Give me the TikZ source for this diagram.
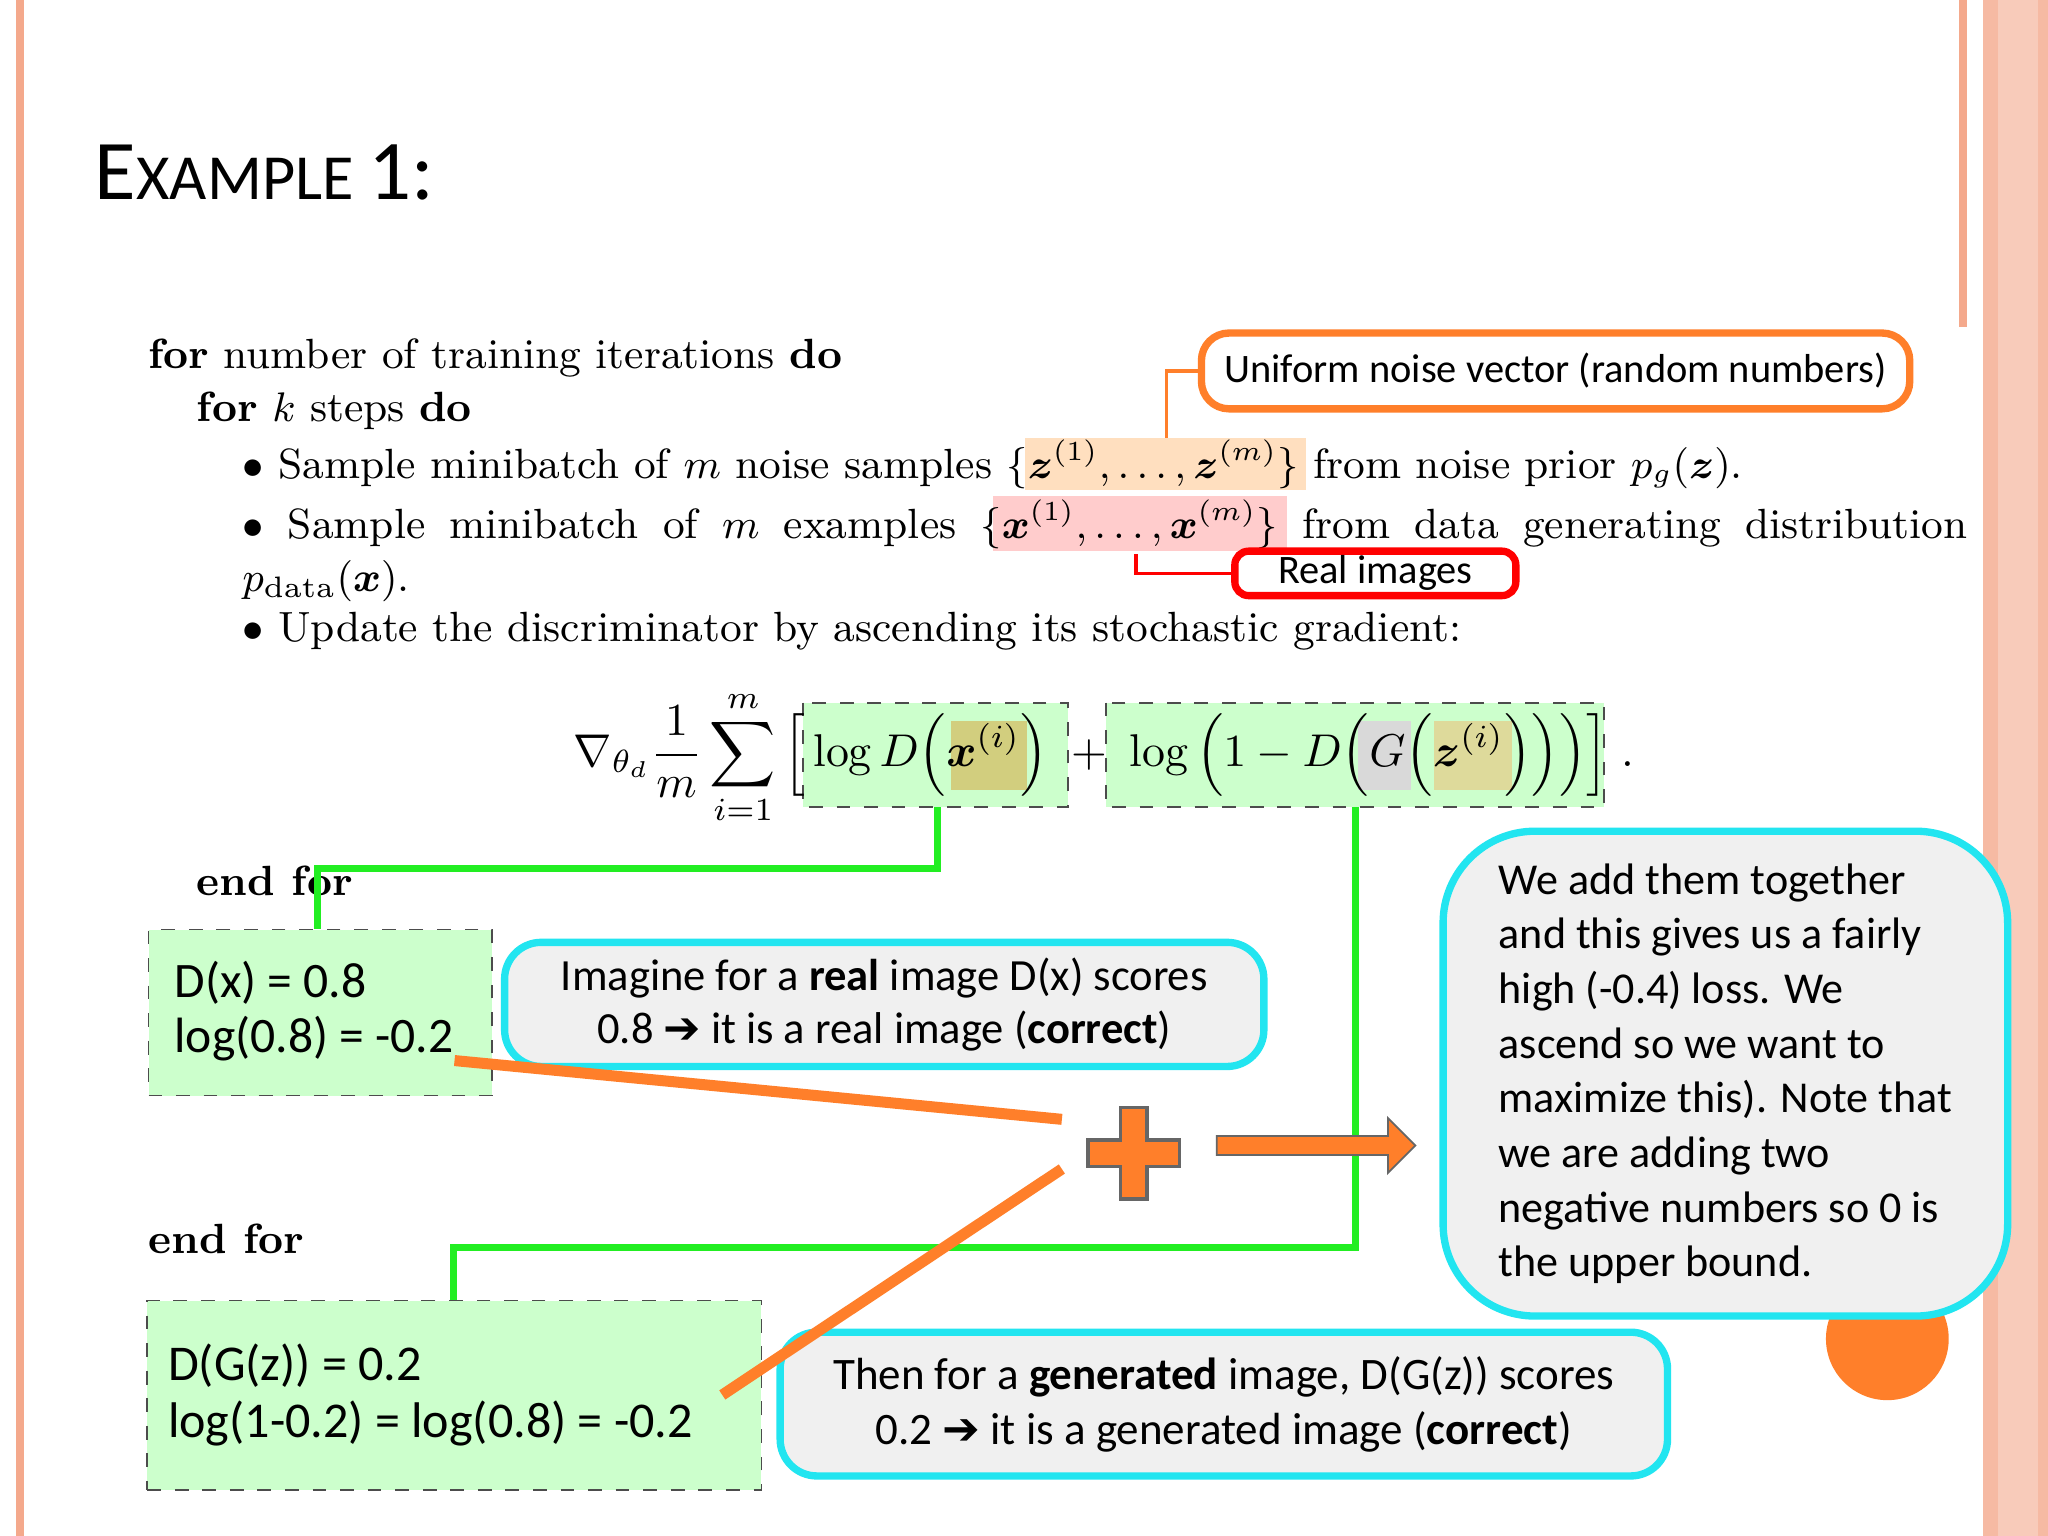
\documentclass[tikz,border=0pt]{standalone}
\usepackage{amsmath,bm}
\usepackage{fontspec}
\newfontfamily\carl{Carlito}
\newfontfamily\dejavu{DejaVu Sans}
\usetikzlibrary{shapes.arrows}
\definecolor{sal}{HTML}{F4A98C}
\definecolor{org}{HTML}{FF7F2A}
\definecolor{lg}{HTML}{CCFFCC}
\definecolor{gr}{HTML}{22EE22}
\definecolor{cy}{HTML}{22E5F0}
\definecolor{bx}{HTML}{F0F0F0}
\newcommand{\barr}{{\dejavu\bfseries ➔}}
\tikzset{
 cbox/.style={draw=cy,line width=1.6pt,fill=bx,rounded corners=8pt,align=center,font=\carl\fontsize{9}{12}\selectfont},
 gbox/.style={draw=black!70,dashed,fill=lg,anchor=north west,align=left,inner sep=0pt},
 alg/.style={anchor=base west,font=\fontsize{9.2}{11}\selectfont,inner sep=0pt},
 gl/.style={draw=gr,line width=1.6pt},
 ol/.style={draw=org,line width=2.4pt}
}
\begin{document}
\begin{tikzpicture}[x=0.01cm,y=-0.01cm]
\useasboundingbox (0,0) rectangle (1568,1176);
\fill[white] (0,0) rectangle (1568,1176);
\fill[sal] (12,0) rectangle (18,1176);
\fill[sal] (1500,0) rectangle (1506,250);
\fill[sal!80] (1518,0) rectangle (1568,1176);
\fill[sal!60] (1530,0) rectangle (1560,1176);
\fill[org] (1445,1025) circle (47);
\node[anchor=base west,inner sep=0pt,font=\carl\fontsize{18.5}{20}\selectfont] (title) at (72,153) {E\fontsize{14}{16}\selectfont XAMPLE \fontsize{18.5}{20}\selectfont 1:};
% highlights
\fill[orange!25] (785,335) rectangle (1000,375);
\fill[red!20] (760,380) rectangle (985,422);
% algorithm
\node[alg] (l1) at (113,282) {\textbf{for} number of training iterations \textbf{do}};
\node[alg] (l2) at (150,323) {\textbf{for} $k$ steps \textbf{do}};
\node[alg] (l3) at (185,366) {$\bullet$ Sample minibatch of $m$ noise samples $\{\bm z^{(1)},\dots,\bm z^{(m)}\}$ from noise prior $p_g(\bm z)$.};
\node[alg] (l4) at (185,412) {\hbox to 13.2cm{$\bullet$\hfil Sample\hfil minibatch\hfil of\hfil $m$\hfil examples\hfil $\{\bm x^{(1)},\dots,\bm x^{(m)}\}$\hfil from\hfil data\hfil generating\hfil distribution}};
\node[alg] (l5) at (185,453) {$p_{\text{data}}(\bm x)$.};
\node[alg] (l6) at (185,491) {$\bullet$ Update the discriminator by ascending its stochastic gradient:};
% formula boxes
\fill[lg] (615,538) rectangle (818,618);
\fill[lg] (847,538) rectangle (1228,618);
\fill[olive!40] (728,552) rectangle (786,605);
\fill[olive!30] (1098,552) rectangle (1158,605);
\fill[gray!30] (1040,552) rectangle (1080,605);
\draw[dashed,black!70] (615,538) rectangle (818,618);
\draw[dashed,black!70] (847,538) rectangle (1228,618);
\node[anchor=center,inner sep=0pt,font=\fontsize{10}{12}\selectfont] (f) at (845,580) {$\nabla_{\theta_d}\dfrac{1}{m}\displaystyle\sum_{i=1}^{m}\Big[\log D\Big(\bm x^{(i)}\Big)\;+\;\log\Big(1-D\Big(G\Big(\bm z^{(i)}\Big)\Big)\Big)\Big]\;.$};
% callouts
\node[draw=org,line width=1.6pt,fill=white,rounded corners=6pt,minimum width=5.42cm,minimum height=0.58cm,align=center,font=\carl\fontsize{8.8}{11}\selectfont] (un) at (1191,284) {Uniform noise vector (random numbers)};
\draw[org,line width=0.8pt] (un.west) -- (893,284) -- (893,335);
\node[draw=red,line width=1.6pt,fill=white,rounded corners=3pt,minimum width=2.15cm,align=center,minimum height=0.34cm,inner sep=0pt,font=\carl\fontsize{8.8}{11}\selectfont] (ri) at (1053,439) {Real images};
\draw[red,line width=0.8pt] (ri.west) -- (870,439) -- (870,424);
% green connectors
\coordinate (g1) at (718,618); \coordinate (g2) at (1038,618);
\node[anchor=base west,inner sep=0pt,font=\bfseries\fontsize{9.2}{11}\selectfont] (ef1) at (150,686) {end for};
\node[anchor=base west,inner sep=0pt,font=\bfseries\fontsize{9.2}{11}\selectfont] (ef2) at (113,960) {end for};
\node[gbox,minimum width=2.63cm,minimum height=1.27cm] (dx) at (113,711) {};
\node[anchor=west,align=left,inner sep=0pt,font=\carl\fontsize{10.8}{12}\selectfont] (dxt) at (133,774) {D(x) = 0.8\\log(0.8) = -0.2};
\node[gbox,minimum width=4.7cm,minimum height=1.45cm] (dg) at (112,995) {};
\node[anchor=west,align=left,inner sep=0pt,font=\carl\fontsize{10.9}{12.5}\selectfont] (dgt) at (128,1068) {D(G(z)) = 0.2\\log(1-0.2) = log(0.8) = -0.2};
\draw[gl] (g1) -- (718,665) -- (243,665) -- (243,711);
\draw[gl] (g2) -- (1038,955) -- (347,955) -- (347,995);
\node[cbox,minimum width=5.81cm,minimum height=0.82cm,font=\carl\fontsize{9.7}{11.6}\selectfont] (im) at (677,769) {Imagine for a \textbf{real} image D(x) scores\\0.8 \barr\ it is a real image (\textbf{correct})};
\node[cbox,minimum width=6.79cm,minimum height=1.1cm,font=\carl\fontsize{9.8}{11.9}\selectfont] (th) at (937,1075) {Then for a \textbf{generated} image, D(G(z)) scores\\0.2 \barr\ it is a generated image (\textbf{correct})};
\node[cbox,rounded corners=20pt,minimum width=4.32cm,minimum height=3.71cm,align=left,font=\carl\fontsize{9.6}{11.9}\selectfont] (we) at (1321,822) {We add them together\\and this gives us a fairly\\high (-0.4) loss. We\\ascend so we want to\\maximize this). Note that\\we are adding two\\negative numbers so 0 is\\the upper bound.};
% plus and arrow
\coordinate (pl) at (868,883);
\fill[org,draw=black!60,line width=0.8pt,shift={(pl)}] (-10,-35) -- (10,-35) -- (10,-10) -- (35,-10) -- (35,10) -- (10,10) -- (10,35) -- (-10,35) -- (-10,10) -- (-35,10) -- (-35,-10) -- (-10,-10) -- cycle;
\node[single arrow,draw=black!60,fill=org,minimum height=1.52cm,minimum width=0.42cm,single arrow head extend=0.08cm,inner sep=1pt] (ar) at (1004,877) {};
\coordinate (o1) at (348,812); \coordinate (o2) at (813,857);
\coordinate (o3) at (553,1068); \coordinate (o4) at (813,895);
\draw[ol] (o1) -- (o2);
\draw[ol] (o3) -- (o4);
\end{tikzpicture}
\end{document}
